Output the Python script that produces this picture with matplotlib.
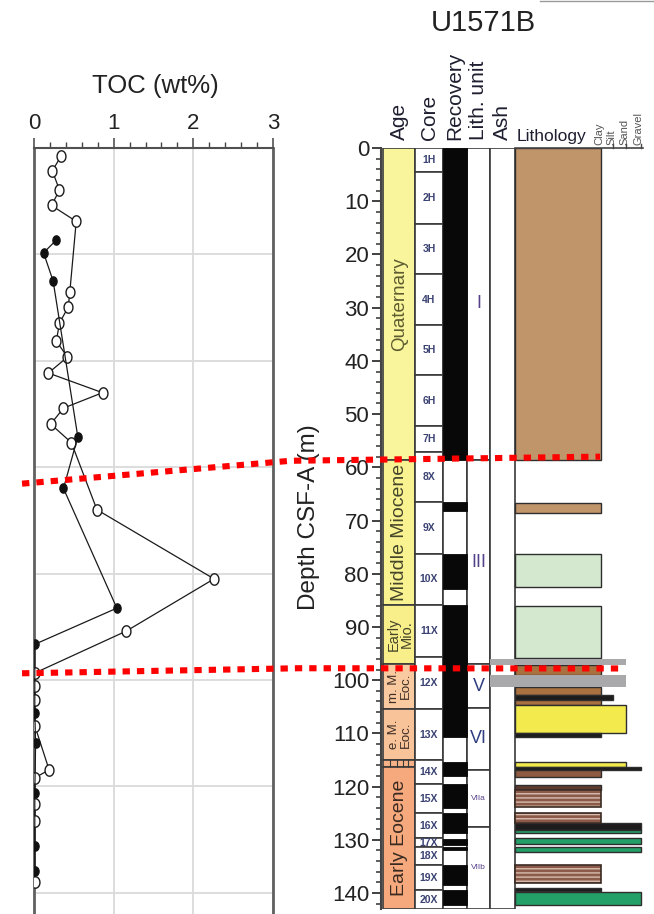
import numpy as np
import matplotlib
matplotlib.use("Agg")
import matplotlib.pyplot as plt
from matplotlib.path import Path
from matplotlib.lines import Line2D
from matplotlib.ticker import MultipleLocator

plt.rcParams['font.family'] = ['Liberation Sans', 'DejaVu Sans']
plt.rcParams['hatch.linewidth'] = 1.0

# ---------------- TOC measurements, Hole U1571B ----------------
toc_a_depth = [1.5, 4.3, 7.9, 10.8, 13.8, 27.0, 29.9, 32.9, 36.3, 39.3, 42.3,
               46.0, 48.9, 51.9, 55.4, 68.0, 81.0, 90.8, 98.7, 101.2, 103.7,
               108.6, 116.9, 118.4, 123.3, 126.6, 137.9]
toc_a = [0.34, 0.23, 0.32, 0.22, 0.53, 0.45, 0.43, 0.32, 0.28, 0.42, 0.18,
         0.86, 0.37, 0.21, 0.47, 0.79, 2.26, 1.16, 0.01, 0.01, 0.01,
         0.01, 0.19, 0.01, 0.01, 0.01, 0.01]
toc_b_depth = [17.3, 19.7, 25.0, 54.3, 64.0, 86.5, 93.3, 106.2, 111.8,
               121.2, 131.3, 136.0]
toc_b = [0.28, 0.12, 0.24, 0.55, 0.37, 1.04, 0.01, 0.01, 0.02,
         0.01, 0.01, 0.01]

# ---------------- Core log ----------------
core_names = ['1H', '2H', '3H', '4H', '5H', '6H', '7H', '8X', '9X', '10X',
              '11X', '12X', '13X', '14X', '15X', '16X', '17X', '18X', '19X', '20X']
core_top = [0, 4.6, 14.3, 23.7, 33.3, 42.7, 52.3, 57.1, 66.6, 76.2,
            85.9, 95.7, 105.5, 115.0, 119.6, 125.0, 129.7, 131.4, 134.7, 139.5]
core_bot = core_top[1:] + [143.0]

recovery_top = [0, 66.6, 76.2, 85.9, 115.3, 119.6, 125.0, 129.8, 131.4, 134.8, 139.5]
recovery_bot = [58.6, 68.3, 82.8, 110.6, 118.1, 124.1, 128.8, 130.9, 132.0, 138.5, 142.3]

age_names = ['Quaternary', 'Middle Miocene', 'Early\nMio.', 'm. M.\nEoc.',
             'e. M.\nEoc.', 'l. E.', 'Early Eocene']
age_top = [0, 58.7, 85.9, 96.9, 105.4, 115.0, 116.4]
age_bot = [58.7, 85.9, 96.9, 105.4, 115.0, 116.4, 143.0]

unit_names = ['I', 'III', 'V', 'VI', 'VIIa', 'VIIb']
unit_top = [0, 58.6, 97.0, 105.3, 116.8, 127.5]
unit_bot = [58.6, 97.0, 105.3, 116.8, 127.5, 143.0]

ash_top = [96.0, 99.1]
ash_bot = [97.2, 101.2]

lith_top = [0.0, 66.7, 76.3, 86.0, 97.2, 101.2, 102.8, 103.8, 104.7, 109.9,
            115.3, 116.3, 116.8, 119.7, 120.6, 125.0, 126.9, 128.1, 129.7,
            131.3, 134.8, 139.0, 139.8]
lith_bot = [58.7, 68.5, 82.5, 95.9, 99.0, 102.8, 103.8, 104.7, 109.9, 110.6,
            116.3, 116.8, 118.2, 120.6, 123.8, 126.9, 128.1, 128.8, 130.8,
            132.2, 138.2, 139.6, 142.3]
lith_kind = ['tan', 'tan', 'pale_green', 'pale_green', 'brown', 'brown', 'black',
             'brown', 'yellow', 'black', 'yellow', 'black', 'red_brown',
             'dark_brown', 'laminated', 'laminated', 'black', 'green', 'green',
             'green', 'laminated', 'black', 'green']
lith_grain = ['clay', 'clay', 'clay', 'clay', 'clay', 'clay', 'silt', 'clay',
              'sand', 'clay', 'sand', 'gravel', 'clay', 'clay', 'clay', 'clay',
              'gravel', 'gravel', 'gravel', 'gravel', 'clay', 'clay', 'gravel']

grain_names = ['Clay', 'Silt', 'Sand', 'Gravel']

# ---------------- styles / layout ----------------
AGE_STYLE = {
    'Quaternary': ('#F9F59C', '#5E5C30', 13.5),
    'Middle Miocene': ('#F8F291', '#45452A', 14),
    'Early\nMio.': ('#F8EF8A', '#45452A', 10.5),
    'm. M.\nEoc.': ('#F9C9A0', '#3E2E24', 9.5),
    'e. M.\nEoc.': ('#F9C39A', '#3E2E24', 9.5),
    'l. E.': ('#F6B286', '#3E2E24', 0),
    'Early Eocene': ('#F5A97C', '#3A2A22', 14),
}
LITH_STYLE = {
    'tan': '#C1956A', 'pale_green': '#D4E8CF', 'brown': '#A9713F',
    'black': '#1C1C1C', 'yellow': '#F3EB4E', 'red_brown': '#8E5A42',
    'dark_brown': '#5C3B2E', 'laminated': '#8C5A48', 'green': '#23A068',
}
GRAIN_X = {'clay': 601, 'silt': 613, 'sand': 626, 'gravel': 641}
COL = {'age': (383, 415), 'core': (415, 443), 'rec': (443, 467),
       'unit': (467, 490), 'ash': (490, 515)}
LITH_X0 = 515
EDGE = '#3a3a3a'

W, H = 654, 914
fig = plt.figure(figsize=(W / 100, H / 100), dpi=100)

# ---------------- TOC panel ----------------
ax_toc = fig.add_axes([34 / W, 0, 239 / W, 766 / H])
ax_toc.set_xlim(0, 3)
ax_toc.set_ylim(144, 0)
ax_toc.xaxis.set_ticks_position('top')
ax_toc.xaxis.set_label_position('top')
ax_toc.set_xticks([0, 1, 2, 3])
ax_toc.xaxis.set_minor_locator(MultipleLocator(0.2))
ax_toc.set_yticks(np.arange(0, 141, 20))
ax_toc.tick_params(axis='x', which='major', length=7, width=1.1, direction='out',
                   labelsize=16, pad=3, color='#444444', labelcolor='#222222')
ax_toc.tick_params(axis='x', which='minor', length=4, width=1.0, direction='out',
                   color='#444444')
ax_toc.tick_params(axis='y', which='both', length=0, labelleft=False)
ax_toc.grid(True, which='major', color='#DADADA', lw=1.3)
ax_toc.set_axisbelow(True)
for side in ['left', 'right']:
    ax_toc.spines[side].set_color('#606060')
    ax_toc.spines[side].set_linewidth(2.0)
ax_toc.spines['top'].set_color('#505050')
ax_toc.spines['top'].set_linewidth(1.5)
ax_toc.spines['bottom'].set_visible(False)

theta = np.linspace(0, 2 * np.pi, 48)
ellipse = Path(np.column_stack([0.78 * np.cos(theta), np.sin(theta)]), closed=True)

ax_toc.plot(toc_a, toc_a_depth, color='#1a1a1a', lw=0.9, marker=ellipse,
            markersize=8.2, markerfacecolor='white', markeredgecolor='#1a1a1a',
            markeredgewidth=1.0, zorder=3)
ax_toc.plot(toc_b, toc_b_depth, color='#1a1a1a', lw=0.9, marker=ellipse,
            markersize=6.8, markerfacecolor='#111111', markeredgecolor='#111111',
            markeredgewidth=0.8, zorder=4)

fig.text(155 / W, 1 - 86 / H, 'TOC (wt%)', ha='center', va='center',
         fontsize=18.5, color='#222222')

# ---------------- core description panel ----------------
ax = fig.add_axes([381 / W, 5 / H, 264 / W, 761 / H])
ax.set_xlim(381, 645)
ax.set_ylim(143.0, 0)
for side in ['top', 'right', 'bottom']:
    ax.spines[side].set_visible(False)
ax.spines['left'].set_color('#444444')
ax.spines['left'].set_linewidth(1.5)
ax.set_xticks([])
ax.yaxis.set_major_locator(MultipleLocator(10))
ax.yaxis.set_minor_locator(MultipleLocator(2))
ax.tick_params(axis='y', which='major', length=6.5, width=1.3, direction='out',
               labelsize=16, pad=2, color='#333333', labelcolor='#222222')
ax.tick_params(axis='y', which='minor', length=3.5, width=1.1, direction='out',
               color='#333333')
ax.patch.set_alpha(0)


def column_bar(col, top, bot, color, lw=1.0, ec=EDGE, z=2):
    x0, x1 = COL[col]
    ax.barh(top, x1 - x0, height=bot - top, left=x0, align='edge',
            color=color, edgecolor=ec, lw=lw, zorder=z)


# Age
for name, t, b in zip(age_names, age_top, age_bot):
    fc, tc, fs = AGE_STYLE[name]
    column_bar('age', t, b, fc, lw=1.2)
    if fs:
        ax.text(sum(COL['age']) / 2 + 1, (t + b) / 2, name, rotation=90,
                ha='center', va='center', fontsize=fs, color=tc,
                linespacing=0.95)
# thin sub-divisions in the narrow age band
band = age_names.index('l. E.')
for xd in [390, 397, 403, 408]:
    ax.plot([xd, xd], [age_top[band], age_bot[band]], color=EDGE, lw=0.8, zorder=3)

# Core
for name, t, b in zip(core_names, core_top, core_bot):
    column_bar('core', t, b, 'white', lw=1.2)
    ax.text(sum(COL['core']) / 2, (t + b) / 2, name, ha='center', va='center',
            fontsize=7.5, color='#3a4272', fontweight='bold')

# Recovery
column_bar('rec', 0, 143.0, 'white', lw=1.2)
for t, b in zip(recovery_top, recovery_bot):
    column_bar('rec', t, b, '#080808', lw=0.6, ec='#080808', z=3)

# Lithostratigraphic units
for name, t, b in zip(unit_names, unit_top, unit_bot):
    column_bar('unit', t, b, 'white', lw=1.2)
    small = name.startswith('VII')
    ax.text(sum(COL['unit']) / 2, (t + b) / 2, name, ha='center', va='center',
            fontsize=6 if small else 13,
            color='#2E3D80' if name in ('V', 'VI') else '#55408A')

# Ash column
column_bar('ash', 0, 143.0, 'white', lw=1.2)

# Lithology
for t, b, kind, g in zip(lith_top, lith_bot, lith_kind, lith_grain):
    right = GRAIN_X[g]
    if kind == 'laminated':
        ax.barh(t, right - LITH_X0, height=b - t, left=LITH_X0, align='edge',
                color=LITH_STYLE[kind], edgecolor='#D9BDB0', lw=0, hatch='----',
                zorder=3)
        ax.barh(t, right - LITH_X0, height=b - t, left=LITH_X0, align='edge',
                fill=False, edgecolor='#3a2a22', lw=1.2, zorder=4)
    else:
        ax.barh(t, right - LITH_X0, height=b - t, left=LITH_X0, align='edge',
                color=LITH_STYLE[kind], edgecolor='#2e2e2e', lw=1.0, zorder=3)

# Ash layers across ash + lithology columns
for t, b in zip(ash_top, ash_bot):
    ax.barh(t, GRAIN_X['sand'] - COL['ash'][0], height=b - t, left=COL['ash'][0],
            align='edge', color='#A9A9AB', lw=0, zorder=5)

# grain-size scale on top of the lithology column
ax.plot([LITH_X0, 643], [0, 0], color='#444444', lw=1.2, clip_on=False, zorder=4)
for g in ['silt', 'sand', 'gravel']:
    ax.plot([GRAIN_X[g], GRAIN_X[g]], [0, -0.7], color='#444444', lw=1.0,
            clip_on=False)
for gname, g in zip(grain_names, ['clay', 'silt', 'sand', 'gravel']):
    ax.text(GRAIN_X[g] - 2, -0.5, gname, rotation=90, ha='center', va='bottom',
            fontsize=8, color='#555555')

# column headings
for label, col in [('Age', 'age'), ('Core', 'core'), ('Recovery', 'rec'),
                   ('Lith. unit', 'unit'), ('Ash', 'ash')]:
    ax.text(sum(COL[col]) / 2, -1.5, label, rotation=90, ha='center',
            va='bottom', fontsize=15, color='#1e1e30')
ax.text(LITH_X0 + 2, -1.4, 'Lithology', ha='left', va='baseline', fontsize=12.5,
        color='#1e1e30')

fig.text(309.5 / W, 1 - 517 / H, 'Depth CSF-A (m)', rotation=90, ha='center',
         va='center', fontsize=17.5, color='#222222')
fig.text(483 / W, 1 - 23 / H, 'U1571B', ha='center', va='center',
         fontsize=21, color='#222222')

# ---------------- correlation lines (hiatuses) ----------------
hiatus_lines = [
    [(ax_toc, -0.15, 63.1), (ax_toc, 3.22, 58.8), (ax, 600, 58.0)],
    [(ax_toc, -0.15, 98.75), (ax_toc, 3.32, 97.8), (ax, 625, 97.8)],
]
inv = fig.transFigure.inverted()
for pts in hiatus_lines:
    xy = np.array([inv.transform(a.transData.transform((x, d))) for a, x, d in pts])
    fig.add_artist(Line2D(xy[:, 0], xy[:, 1], transform=fig.transFigure,
                          color='#FF0000', lw=4.4, linestyle=(0, (1.2, 1.15)),
                          dash_capstyle='butt', zorder=10))

# thin frame line at the top edge
fig.add_artist(Line2D([540 / W, 1.0], [1 - 1.2 / H, 1 - 1.2 / H],
                      transform=fig.transFigure, color='#9a9a9a', lw=1.0))

fig.savefig('out.png', dpi=100)
